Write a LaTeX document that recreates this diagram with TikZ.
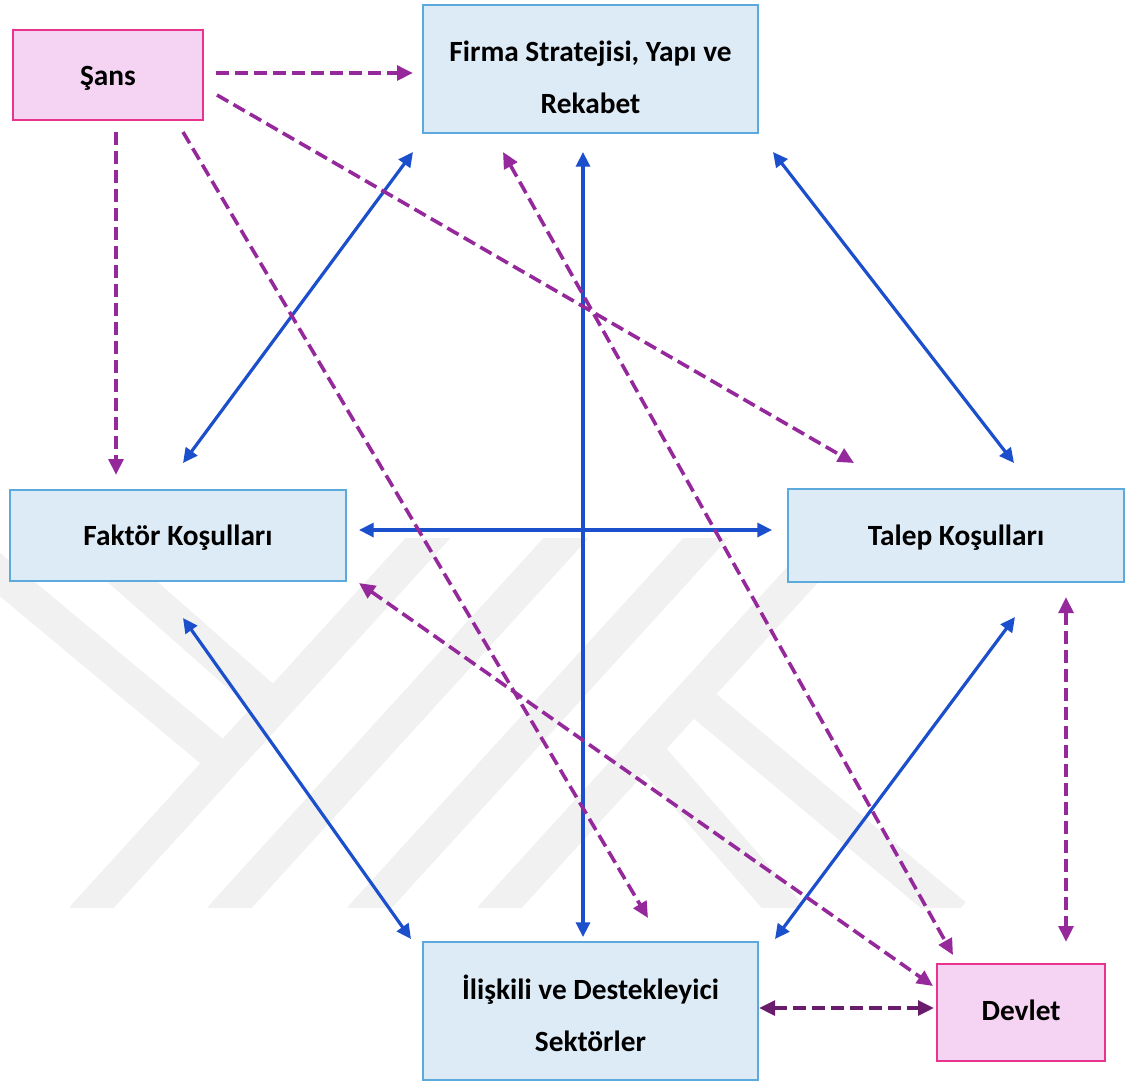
\documentclass[tikz,border=0pt]{standalone}
\usepackage{fontspec}
\setmainfont{Carlito}
\usetikzlibrary{arrows.meta}
\definecolor{boxfill}{HTML}{DDEBF7}
\definecolor{boxline}{HTML}{5BA9DD}
\definecolor{pinkfill}{HTML}{F5D4F3}
\definecolor{pinkline}{HTML}{E8338F}
\definecolor{arrblue}{HTML}{1C4FCB}
\definecolor{arrpurple}{HTML}{95299C}
\definecolor{arrdark}{HTML}{6A1C6C}
\definecolor{wmgray}{HTML}{F1F1F1}
\begin{document}
\begin{tikzpicture}[x=0.75pt,y=-0.75pt,
  bluebox/.style={draw=boxline,fill=boxfill,line width=1.6pt,inner sep=0pt},
  pinkbox/.style={draw=pinkline,fill=pinkfill,line width=1.6pt,inner sep=0pt},
  lbl/.style={font=\fontsize{22}{39}\selectfont\bfseries,align=center,inner sep=0pt},
  onelbl/.style={lbl,text height=14.2pt,text depth=0pt},
  bluearr/.style={draw=arrblue,line width=2.4pt,
    {Triangle[length=11pt,width=10.5pt]}-{Triangle[length=11pt,width=10.5pt]}},
  purpdash/.style={draw=arrpurple,line width=2.7pt,dash pattern=on 9.75pt off 4.5pt},
  onehead/.style={-{Triangle[length=12pt,width=11pt]}},
  twohead/.style={{Triangle[length=12pt,width=11pt]}-{Triangle[length=12pt,width=11pt]}},
  wmband/.style={draw=wmgray,line width=25pt}
]
\useasboundingbox (0,0) rectangle (1125,1083);

% faint background watermark
\begin{scope}
\clip (0,538) rectangle (1000,907);
\draw[wmband] (-20,558) -- (232,768);
\draw[wmband] (110,562) -- (272,705);
\draw[wmband] (82,918) -- (438,527);
\draw[wmband] (220,918) -- (576,527);
\draw[wmband] (360,918) -- (716,527);
\draw[wmband] (490,918) -- (846,527);
\draw[wmband] (700,702) -- (955,915);
\draw[wmband] (650,755) -- (790,915);
\end{scope}

% boxes
\node[pinkbox,minimum width=142.5pt,minimum height=67.5pt] (sans) at (108,75) {};
\node[onelbl] (sansT) at (108,76) {Şans};
\node[bluebox,minimum width=251.25pt,minimum height=96pt] (firma) at (590.5,69) {};
\node[lbl] (firmaT) at (590.5,77) {Firma Stratejisi, Yapı ve\\Rekabet};
\node[bluebox,minimum width=252pt,minimum height=68.25pt] (faktor) at (178,535.5) {};
\node[onelbl] (faktorT) at (178,536.5) {Faktör Koşulları};
\node[bluebox,minimum width=252pt,minimum height=69.75pt] (talep) at (956,535.5) {};
\node[onelbl] (talepT) at (956,536.5) {Talep Koşulları};
\node[bluebox,minimum width=251.25pt,minimum height=103.5pt] (iliskili) at (590.5,1011) {};
\node[lbl] (iliskiliT) at (590.5,1013) {İlişkili ve Destekleyici\\Sektörler};
\node[pinkbox,minimum width=126pt,minimum height=72.75pt] (devlet) at (1021,1012.5) {};
\node[onelbl] (devletT) at (1021,1011) {Devlet};

% connector end points
\coordinate (sansR) at (216,73);   \coordinate (firmaL) at (413,73);
\coordinate (sansB) at (116,132);  \coordinate (faktorTop) at (116,475);
\coordinate (sansD) at (217,95);   \coordinate (talepTL) at (854,463);
\coordinate (sansE) at (183,132);  \coordinate (ilisTop) at (648,918);
\coordinate (firmaBL) at (413,152); \coordinate (faktorTR) at (183,463);
\coordinate (firmaBM) at (583,152); \coordinate (ilisTM) at (583,937);
\coordinate (firmaBR) at (773,152); \coordinate (talepTR) at (1014,463);
\coordinate (firmaBD) at (503,152); \coordinate (devletTL) at (953,955);
\coordinate (faktorR) at (359,530); \coordinate (talepL) at (772,530);
\coordinate (faktorBR) at (183,618); \coordinate (ilisTL) at (411,939);
\coordinate (faktorBD) at (359,583); \coordinate (devletL) at (933,986);
\coordinate (talepBL) at (1015,617); \coordinate (ilisTR) at (775,939);
\coordinate (talepBR) at (1066,597); \coordinate (devletT) at (1066,942);
\coordinate (ilisR) at (759,1008); \coordinate (devletML) at (934,1008);

% blue solid two-way arrows
\draw[bluearr] (firmaBL) -- (faktorTR);
\draw[bluearr] (firmaBM) -- (ilisTM);
\draw[bluearr] (firmaBR) -- (talepTR);
\draw[bluearr] (faktorR) -- (talepL);
\draw[bluearr] (faktorBR) -- (ilisTL);
\draw[bluearr] (talepBL) -- (ilisTR);

% purple dashed arrows from Şans
\draw[purpdash,onehead] (sansR) -- (firmaL);
\draw[purpdash,onehead] (sansB) -- (faktorTop);
\draw[purpdash,onehead] (sansD) -- (talepTL);
\draw[purpdash,onehead] (sansE) -- (ilisTop);

% purple dashed two-way arrows with Devlet
\draw[purpdash,twohead] (firmaBD) -- (devletTL);
\draw[purpdash,twohead] (faktorBD) -- (devletL);
\draw[purpdash,twohead] (talepBR) -- (devletT);
\draw[purpdash,twohead,draw=arrdark] (ilisR) -- (devletML);
\end{tikzpicture}
\end{document}
